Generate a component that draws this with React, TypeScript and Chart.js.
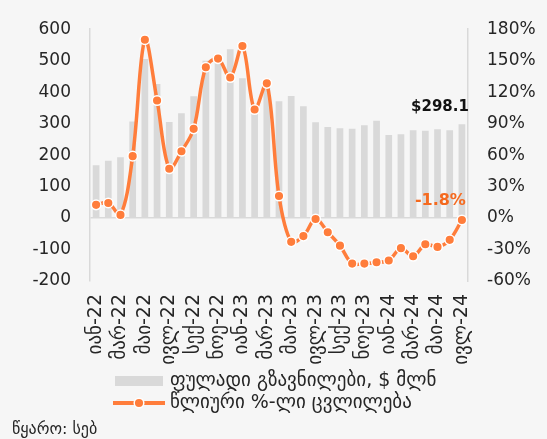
import React, { useEffect, useRef } from "react";
import { Chart, registerables } from "chart.js";

Chart.register(...registerables);

// ---- data ----
const months: string[] = [
  "იან-22", "თებ-22", "მარ-22", "აპრ-22", "მაი-22", "ივნ-22", "ივლ-22", "აგვ-22", "სექ-22", "ოქტ-22", "ნოე-22", "დეკ-22",
  "იან-23", "თებ-23", "მარ-23", "აპრ-23", "მაი-23", "ივნ-23", "ივლ-23", "აგვ-23", "სექ-23", "ოქტ-23", "ნოე-23", "დეკ-23",
  "იან-24", "თებ-24", "მარ-24", "აპრ-24", "მაი-24", "ივნ-24", "ივლ-24",
];

// money transfers, $ million
const remittances: number[] = [
  168, 182, 193, 307, 505, 426, 305, 333, 387, 500, 500, 536,
  444, 350, 425, 371, 388, 355, 304, 289, 285, 284, 295, 309,
  264, 266, 279, 277, 282, 279, 298.1,
];

// annual % change
const growth: number[] = [
  12.6, 14.4, 3, 59, 170, 112, 47, 63.6, 85, 143.8, 152, 134,
  164, 103.4, 128.4, 21, -22.7, -17.2, -0.9, -13.5, -26.3, -43.4, -43.4, -42.2,
  -40.4, -28.7, -36.4, -25, -27.5, -20.8, -1.8,
];

const leftTicks: number[] = [-200, -100, 0, 100, 200, 300, 400, 500, 600];
const rightTicks: number[] = [-60, -30, 0, 30, 60, 90, 120, 150, 180];

const seriesNames: string[] = ["ფულადი გზავნილები, $ მლნ", "წლიური %-ლი ცვლილება"];
const sourceText = "წყარო: სებ";

// ---- styles ----
const FONT = "'DejaVu Sans', sans-serif";
const BAR = "#d9d9d9";
const ORANGE = "#ff7d3b";
const LABEL_ORANGE = "#f56a1f";
const TEXT = "#262626";
const AXIS = "#d9d9d9";
const BG = "#f6f6f6";

export default function App() {
  const ref = useRef<HTMLCanvasElement>(null);

  useEffect(() => {
    const canvas = ref.current;
    if (!canvas) return;

    const extras = {
      id: "extras",
      afterDatasetsDraw(chart: any) {
        const ctx = chart.ctx;
        const n = remittances.length - 1;
        const x = chart.scales.x.getPixelForValue(n);
        const yb = chart.scales.y.getPixelForValue(remittances[n]);
        const yl = chart.scales.y1.getPixelForValue(growth[n]);
        ctx.save();
        ctx.textAlign = "right";
        ctx.textBaseline = "middle";
        ctx.font = `bold 15px ${FONT}`;
        ctx.fillStyle = "#111111";
        ctx.fillText(`$${remittances[n].toFixed(1)}`, x + 7, yb - 17);
        ctx.font = `bold 16px ${FONT}`;
        ctx.fillStyle = LABEL_ORANGE;
        ctx.fillText(`${growth[n].toFixed(1)}%`, x + 4, yl - 19);
        ctx.restore();
      },
      afterDraw(chart: any) {
        const ctx = chart.ctx;
        ctx.save();
        ctx.textBaseline = "middle";
        ctx.textAlign = "left";
        ctx.font = `19px ${FONT}`;
        // legend row 1 (bars)
        ctx.fillStyle = BAR;
        ctx.fillRect(115, 376, 48, 10);
        ctx.fillStyle = TEXT;
        ctx.fillText(seriesNames[0], 170, 381);
        // legend row 2 (line)
        const ly = 403;
        ctx.strokeStyle = ORANGE;
        ctx.lineWidth = 4;
        ctx.beginPath();
        ctx.moveTo(113, ly);
        ctx.lineTo(165, ly);
        ctx.stroke();
        ctx.beginPath();
        ctx.arc(139, ly, 4.8, 0, Math.PI * 2);
        ctx.fillStyle = ORANGE;
        ctx.fill();
        ctx.lineWidth = 1.5;
        ctx.strokeStyle = "#ffffff";
        ctx.stroke();
        ctx.fillStyle = TEXT;
        ctx.fillText(seriesNames[1], 170, ly);
        // source
        ctx.font = `16px ${FONT}`;
        ctx.fillText(sourceText, 12, 430);
        ctx.restore();
      },
    };

    const chart = new Chart(canvas, {
      type: "bar",
      data: {
        labels: months,
        datasets: [
          {
            type: "bar",
            label: seriesNames[0],
            data: remittances,
            backgroundColor: BAR,
            yAxisID: "y",
            order: 2,
            barPercentage: 0.55,
            categoryPercentage: 1,
          },
          {
            type: "line",
            label: seriesNames[1],
            data: growth,
            yAxisID: "y1",
            order: 1,
            borderColor: ORANGE,
            borderWidth: 3.5,
            pointRadius: 4.8,
            pointBackgroundColor: ORANGE,
            pointBorderColor: "#ffffff",
            pointBorderWidth: 1.5,
            tension: 0.35,
          },
        ] as any,
      },
      options: {
        animation: false,
        responsive: false,
        layout: { padding: { top: 20, left: 0, right: 0, bottom: 0 } },
        plugins: {
          legend: { display: false },
          tooltip: { enabled: false },
        },
        scales: {
          x: {
            grid: { display: false, drawTicks: false },
            border: { display: false },
            ticks: {
              autoSkip: false,
              maxRotation: 90,
              minRotation: 90,
              padding: 13,
              color: TEXT,
              font: { family: FONT, size: 19 },
              callback: (_v: any, i: number) => (i % 2 === 0 ? months[i] : ""),
            },
            afterFit: (s: any) => {
              s.height = 158;
            },
          },
          y: {
            position: "left",
            min: leftTicks[0],
            max: leftTicks[leftTicks.length - 1],
            ticks: {
              stepSize: leftTicks[1] - leftTicks[0],
              padding: 19,
              color: TEXT,
              font: { family: FONT, size: 17 },
            },
            grid: {
              color: (c: any) => (c.tick && c.tick.value === 0 ? AXIS : "rgba(0,0,0,0)"),
              lineWidth: 1.5,
              drawTicks: false,
            },
            border: { display: true, color: AXIS, width: 1.5 },
            afterFit: (s: any) => {
              s.width = 90;
            },
          },
          y1: {
            position: "right",
            min: rightTicks[0],
            max: rightTicks[rightTicks.length - 1],
            ticks: {
              stepSize: rightTicks[1] - rightTicks[0],
              padding: 19,
              color: TEXT,
              font: { family: FONT, size: 17 },
              callback: (v: any) => `${v}%`,
            },
            grid: { drawOnChartArea: false, drawTicks: false },
            border: { display: true, color: AXIS, width: 1.5 },
            afterFit: (s: any) => {
              s.width = 79;
            },
          },
        },
      } as any,
      plugins: [extras],
    });

    return () => chart.destroy();
  }, []);

  return (
    <div style={{ position: "fixed", left: 0, top: 0, width: 547, height: 439, background: BG }}>
      <canvas ref={ref} width={547} height={439} style={{ display: "block" }} />
    </div>
  );
}
